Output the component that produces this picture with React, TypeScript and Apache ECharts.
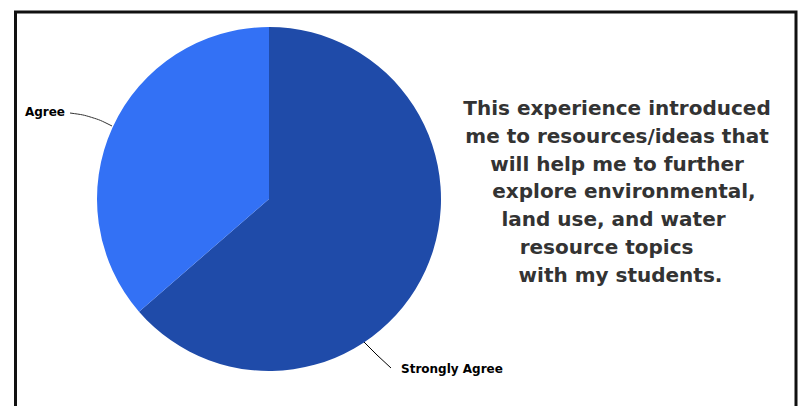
import React, { useEffect, useRef } from "react";
import * as echarts from "echarts";

const categories = ["Strongly Agree", "Agree"];
const values = [7, 4];
const colors = ["#1F4BA9", "#3371F5"];
const titleLines = [
  "This experience introduced",
  "me to resources/ideas that",
  "will help me to further",
  "  explore environmental,",
  "land use, and water ",
  "resource topics   ",
  " with my students.",
];

export default function App() {
  const ref = useRef<HTMLDivElement>(null);
  useEffect(() => {
    const chart = echarts.init(ref.current!, null, { renderer: "svg" });
    chart.setOption({
      animation: false,
      backgroundColor: "#ffffff",
      graphic: [
        {
          type: "rect",
          shape: { x: 15.5, y: 12, width: 780.5, height: 500 },
          style: { fill: "none", stroke: "#111111", lineWidth: 3 },
          z: 10,
        },
        {
          type: "text",
          x: 617,
          y: 94,
          style: {
            text: titleLines.join("\n"),
            font: "bold 20px 'DejaVu Sans'",
            fill: "#333333",
            align: "center",
            verticalAlign: "top",
            lineHeight: 27.8,
          },
        },
      ],
      series: [
        {
          type: "pie",
          center: [269, 199],
          radius: 172,
          startAngle: 90,
          clockwise: true,
          data: categories.map((c, i) => ({
            name: c,
            value: values[i],
            itemStyle: { color: colors[i] },
            labelLine: {
              smooth: i === 1 ? 0.4 : false,
              lineStyle: { color: i === 1 ? "#333333" : "#000000", width: 1 },
            },
          })),
          label: {
            show: true,
            formatter: "{b}",
            color: "#000000",
            fontFamily: "DejaVu Sans",
            fontWeight: "bold",
            fontSize: 12,
          },
          labelLine: {
            show: true,
            lineStyle: { color: "#222222", width: 1 },
          },
          labelLayout: (params: any) => {
            if (params.dataIndex === 0) {
              return {
                x: 401,
                y: 369,
                align: "left",
                verticalAlign: "middle",
                labelLinePoints: [
                  [363, 341],
                  [377, 355],
                  [391, 368],
                ],
              };
            }
            return {
              x: 65,
              y: 112,
              align: "right",
              verticalAlign: "middle",
              labelLinePoints: [
                [112, 126],
                [92, 116],
                [70, 113],
              ],
            };
          },
          emphasis: { disabled: true },
        },
      ],
    });
    return () => chart.dispose();
  }, []);
  return (
    <div
      ref={ref}
      style={{ position: "fixed", left: 0, top: 0, width: 798, height: 406 }}
    />
  );
}
